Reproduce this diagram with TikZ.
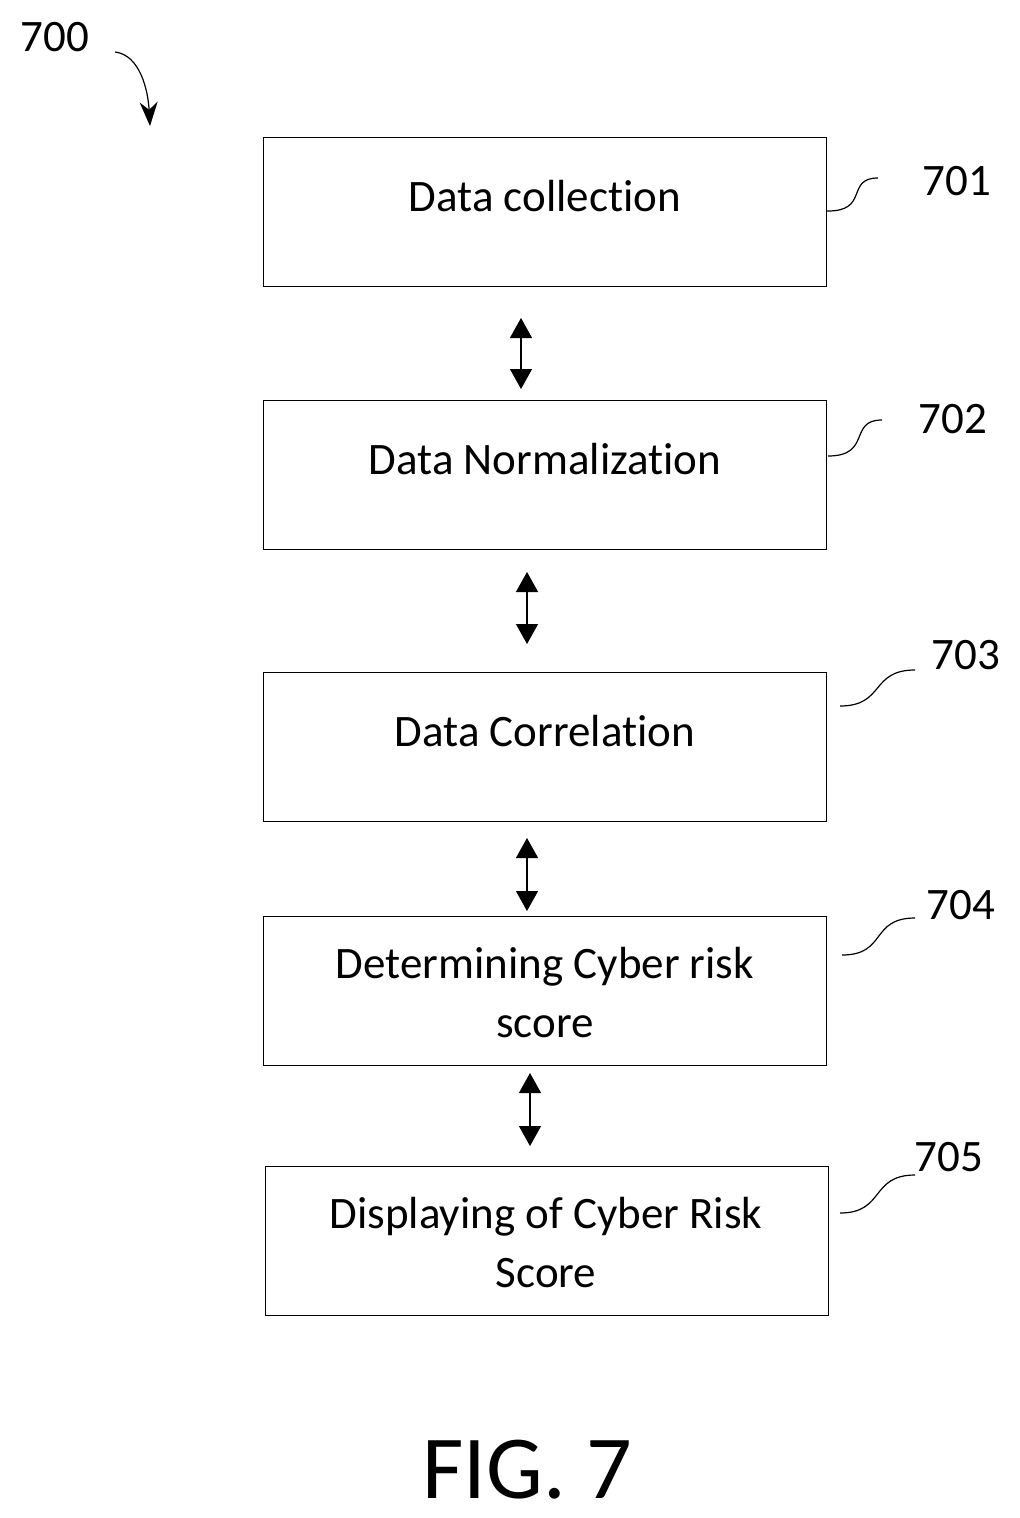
\documentclass[tikz,border=0pt]{standalone}
\usepackage{fontspec}
\setmainfont[Ligatures={NoCommon}]{Carlito}
\usetikzlibrary{arrows.meta}
\tikzset{
  stage/.style={draw,line width=1.2bp,minimum width=563bp,minimum height=149bp,
    inner sep=0pt,anchor=north west},
  link/.style={line width=1.2bp,{Triangle[length=20bp,width=22bp]}-{Triangle[length=20bp,width=22bp]}},
  lead/.style={line width=1.2bp},
  refnum/.style={font=\fontsize{45bp}{50bp}\selectfont}
}
\begin{document}
\begin{tikzpicture}[x=1bp,y=-1bp]
  \useasboundingbox (0,0) rectangle (1019,1518);
  % boxes
  \node[stage] (s1) at (263,137) {};
  \node[stage] (s2) at (263,400) {};
  \node[stage] (s3) at (263,672) {};
  \node[stage] (s4) at (263,916) {};
  \node[stage] (s5) at (265,1166) {};
  \node[refnum] (t1) at (545,196) {Data collection};
  \node[refnum] (t2) at (545,459) {Data Normalization};
  \node[refnum] (t3) at (545,731) {Data Correlation};
  \node[refnum,align=center] (t4) at (545,993) {Determining Cyber risk\\[9bp]score};
  \node[refnum,align=center] (t5) at (546,1243) {Displaying of Cyber Risk\\[9bp]Score};
  % arrows between stages
  \coordinate (a1) at (521,318); \coordinate (b1) at (521,389);
  \coordinate (a2) at (527,572); \coordinate (b2) at (527,644);
  \coordinate (a3) at (527,838); \coordinate (b3) at (527,911);
  \coordinate (a4) at (530,1073); \coordinate (b4) at (530,1146);
  \foreach \i in {1,...,4} \draw[link] (a\i) -- (b\i);
  % reference numerals
  \node[refnum] (n701) at (957,181) {701};
  \node[refnum] (n702) at (953,419) {702};
  \node[refnum] (n703) at (966,655) {703};
  \node[refnum] (n704) at (961,905) {704};
  \node[refnum] (n705) at (949,1157) {705};
  \draw[lead] (826,211) .. controls (870,212) and (845,178) .. (878,178);
  \draw[lead] (828,456) .. controls (872,456) and (848,420) .. (882,420);
  \draw[lead] (840,706) .. controls (885,706) and (870,670) .. (915,670);
  \draw[lead] (842,955) .. controls (887,955) and (870,918) .. (915,918);
  \draw[lead] (840,1213) .. controls (885,1213) and (870,1175) .. (915,1175);
  \node[refnum] (n700) at (55,37) {700};
  \draw[lead,-{Stealth[length=24bp,width=18bp]}] (115,52) .. controls (140,55) and (148,90) .. (150,126);
  \node[font=\fontsize{90bp}{92bp}\selectfont] (fig) at (527,1470) {FIG. 7};
\end{tikzpicture}
\end{document}
